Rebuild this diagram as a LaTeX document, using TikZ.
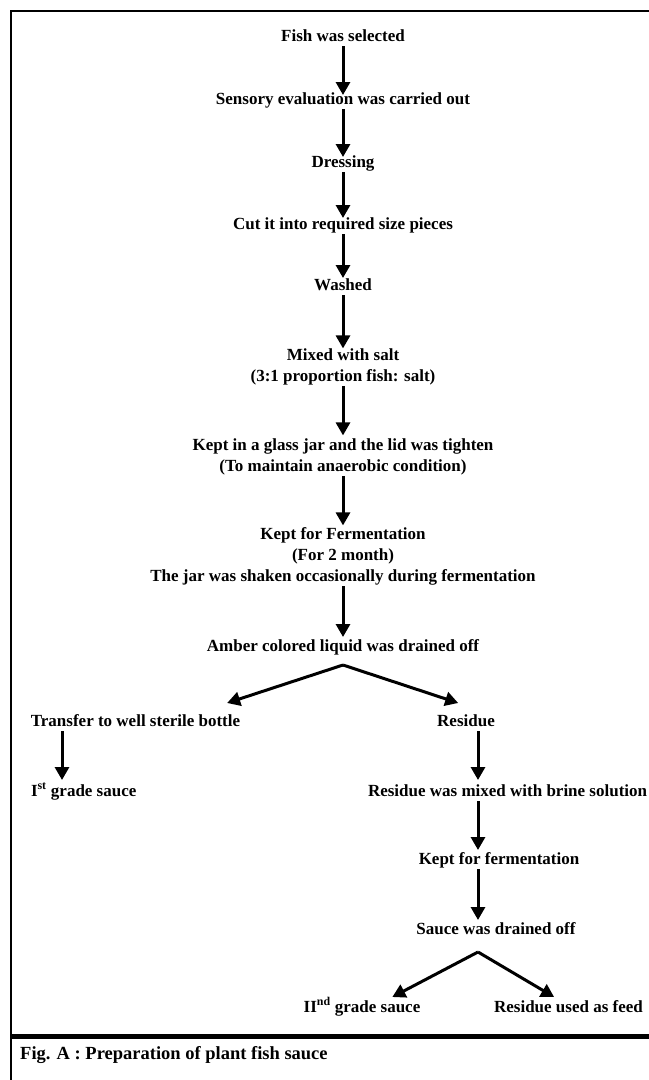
\documentclass[tikz,border=0pt]{standalone}
\usepackage{fontspec}
\setmainfont{Liberation Serif}
\usetikzlibrary{arrows.meta,calc}
\begin{document}
\begin{tikzpicture}[x=1bp,y=-1bp,
  lab/.style={font=\fontsize{17bp}{21bp}\selectfont\bfseries, inner sep=0pt, outer sep=0pt, text height=12bp, text depth=4bp},
  labm/.style={font=\fontsize{17bp}{21bp}\selectfont\bfseries, align=center, inner sep=0pt, outer sep=0pt, anchor=north},
  capt/.style={font=\fontsize{18.5bp}{22bp}\selectfont\bfseries, inner sep=0pt},
  arr/.style={line width=3bp, -{Triangle[length=13bp,width=14bp]}, shorten <=1bp},
  frame/.style={line width=2.6bp}]
\useasboundingbox (0,0) rectangle (649,1080);
% frame
\coordinate (tl) at (11,11);
\coordinate (tr) at (649,11);
\coordinate (bl) at (11,1080);
\draw[frame] (tr) -- (tl) -- (bl);
\coordinate (sl) at (11,1036.5);
\coordinate (sr) at (649,1036.5);
\draw[line width=5bp] (sl) -- (sr);
% main column
\node[lab] (f1) at (343,37) {Fish was selected};
\node[lab] (f2) at (343,100) {Sensory evaluation was carried out};
\node[lab] (f3) at (343,163) {Dressing};
\node[lab] (f4) at (343,225) {Cut it into required size pieces};
\node[lab] (f5) at (343,286) {Washed};
\node[labm] (f6) at (343,348.4) {Mixed with salt\\(3:1 proportion fish: salt)};
\node[labm] (f7) at (343,438.4) {Kept in a glass jar and the lid was tighten\\(To maintain anaerobic condition)};
\node[labm] (f8) at (343,527.4) {Kept for Fermentation\\(For 2 month)\\The jar was shaken occasionally during fermentation};
\node[lab] (f9) at (343,647) {Amber colored liquid was drained off};
% branches
\node[lab] (l1) at (135.5,722) {Transfer to well sterile bottle};
\node[lab] (r1) at (466,722) {Residue};
\node[lab,anchor=west] (l2) at (31,792) {I\textsuperscript{st} grade sauce};
\node[lab,anchor=west] (r2) at (368,792) {Residue was mixed with brine solution};
\node[lab] (r3) at (499,860) {Kept for fermentation};
\node[lab] (r4) at (496,930) {Sauce was drained off};
\node[lab] (r5) at (362,1008) {II\textsuperscript{nd} grade sauce};
\node[lab] (r6) at (568.5,1008) {Residue used as feed};
\node[capt,anchor=west] (cap) at (20,1055) {Fig. A : Preparation of plant fish sauce};
% arrows main column
\draw[arr,shorten >=-3bp] (f1.south) -- (f2.north);
\draw[arr,shorten >=-2bp] (f2.south) -- (f3.north);
\draw[arr,shorten >=-1bp] (f3.south) -- (f4.north);
\draw[arr] (f4.south) -- (f5.north);
\draw[arr] (f5.south) -- (f6.north);
\draw[arr,shorten >=3bp] (f6.south) -- (f7.north);
\draw[arr,shorten >=2bp] (f7.south) -- (f8.north);
\draw[arr,shorten >=2bp] (f8.south) -- (f9.north);
% split 1
\coordinate (ap1) at ($(f9.south)+(0,10)$);
\draw[arr,shorten <=0bp] (ap1) -- ($(l1.north east)+(-13,-11)$);
\draw[arr,shorten <=0bp] (ap1) -- ($(r1.north west)+(21,-11)$);
% left branch
\coordinate (lx) at (62,0);
\draw[arr,shorten >=4bp] (l1.south -| lx) -- (l2.north -| lx);
% right branch
\coordinate (rx) at (478,0);
\draw[arr,shorten >=4bp] (r1.south -| rx) -- (r2.north -| rx);
\draw[arr,shorten >=2bp] (r2.south -| rx) -- (r3.north -| rx);
\draw[arr,shorten >=2bp] (r3.south -| rx) -- (r4.north -| rx);
% split 2
\coordinate (ap2) at ($(r4.south -| rx)+(0,14)$);
\draw[arr,shorten <=0bp] (ap2) -- ($(r5.north east)+(-28,-3)$);
\draw[arr,shorten <=0bp] (ap2) -- ($(r6.north west)+(60,-3)$);
\end{tikzpicture}
\end{document}
